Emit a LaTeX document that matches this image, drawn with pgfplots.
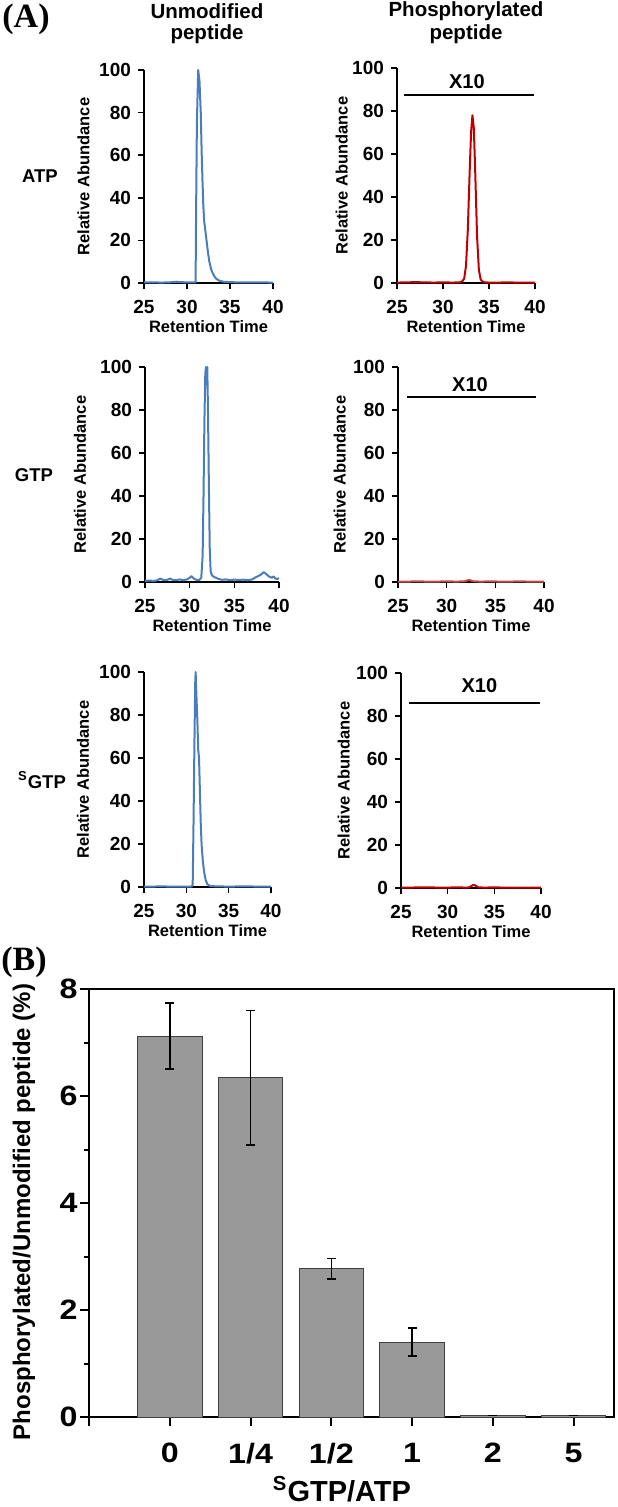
\documentclass[border=0pt]{standalone}
\usepackage{fontspec}
\setmainfont{Liberation Sans}
\newfontfamily\timesf{Liberation Serif}
\newfontfamily\widef[FakeStretch=1.15]{Liberation Sans}
\usepackage{pgfplots}
\pgfplotsset{compat=1.18}

\definecolor{tblue}{HTML}{4A7EBB}
\definecolor{tred}{HTML}{C00000}
\definecolor{tredl}{HTML}{C0504D}
\definecolor{bargray}{HTML}{999999}

% one px of the reference = 0.5pt
\pgfplotsset{
  chrom/.style={
    scale only axis, anchor=south west, clip=false,
    axis lines=left, axis line style={-, line width=0.75pt, black},
    xmin=25, xmax=40, ymin=0, ymax=100,
    xtick={25,30,35,40}, ytick={0,20,...,100},
    tick align=outside, major tick length=3pt,
    tick style={line width=0.75pt, black},
    /pgf/number format/assume math mode=true,
    ticklabel style={font=\fontsize{9.5}{10}\selectfont\bfseries},
    xticklabel shift=2pt,
    xlabel={Retention Time}, ylabel={Relative Abundance},
    label style={font=\fontsize{8.25}{9}\selectfont\bfseries},
    xlabel style={at={(axis description cs:0.5,0)}, anchor=center, yshift=-22pt},
  },
  trace/.style={line width=1pt, no marks, line join=round},
  xten/.style={black, line width=1pt, no marks},
}

\begin{document}
\begin{tikzpicture}
\useasboundingbox (0,0) rectangle (308.5pt,-753.5pt);

% ---- panel A labels
\node[font=\timesf\fontsize{17}{18}\selectfont\bfseries] at (13pt,-9.5pt) {(A)};
\node[font=\fontsize{10.25}{11}\selectfont\bfseries] at (103.5pt,-5.5pt) {Unmodified};
\node[font=\fontsize{10.25}{11}\selectfont\bfseries] at (103.5pt,-17pt) {peptide};
\node[font=\fontsize{10.25}{11}\selectfont\bfseries] at (233pt,-5.5pt) {Phosphorylated};
\node[font=\fontsize{10.25}{11}\selectfont\bfseries] at (233pt,-17pt) {peptide};
\node[font=\fontsize{9.25}{10}\selectfont\bfseries] at (20pt,-88pt) {ATP};
\node[font=\fontsize{9.25}{10}\selectfont\bfseries] at (17pt,-237.5pt) {GTP};
\node[font=\fontsize{9.25}{10}\selectfont\bfseries] at (21pt,-390pt) {\textsuperscript{S}GTP};

% ---- row 1: ATP
\begin{axis}[chrom, at={(72pt,-141.5pt)}, width=64.5pt, height=106.5pt,
  ylabel style={at={(axis description cs:-0.47,0.5)}, anchor=center}]
\addplot[trace, tblue] coordinates {
 (25,0.3) (26,0.3) (27,0.2) (28,0.3) (28.8,0.6) (29.2,0.4) (30,0.3) (31.0,0.3)
 (31.05,30) (31.15,75) (31.3,100) (31.45,95) (31.6,80) (31.7,62) (31.8,48)
 (31.9,36) (32.0,29) (32.15,24) (32.3,19) (32.45,14) (32.6,10) (32.8,6.5)
 (33.0,4.5) (33.2,3) (33.4,2) (33.7,1.2) (34.2,0.6) (35,0.4) (36,0.3) (37,0.3)
 (38.5,0.3) (40,0.2)};
\end{axis}

\begin{axis}[chrom, at={(198.5pt,-141.5pt)}, width=69pt, height=107.5pt,
  ylabel style={at={(axis description cs:-0.40,0.5)}, anchor=center}]
\addplot[xten] coordinates {(25.8,87.5) (39.9,87.5)};
\node[font=\fontsize{10}{10}\selectfont\bfseries] at (axis cs:32.6,93.5) {X10};
\addplot[trace, tred] coordinates {
 (25,0.2) (26,0.3) (27,0.4) (28,0.3) (29,0.2) (30,0.3) (31,0.2) (31.8,0.3)
 (32.1,0.8) (32.3,2) (32.5,8) (32.7,25) (32.9,52) (33.05,70) (33.2,78)
 (33.35,72) (33.5,52) (33.7,22) (33.9,6) (34.1,1.5) (34.4,0.4) (35,0.2)
 (36,0.2) (37,0.3) (38,0.2) (39,0.2) (40,0.2)};
\end{axis}

% ---- row 2: GTP
\begin{axis}[chrom, at={(72.5pt,-291pt)}, width=67pt, height=107.5pt,
  ylabel style={at={(axis description cs:-0.485,0.5)}, anchor=center}]
\addplot[trace, tblue] coordinates {
 (25,0.5) (25.5,0.7) (26,0.5) (26.4,0.8) (26.7,1.6) (27,1.0) (27.4,0.8)
 (27.8,1.6) (28.1,1.0) (28.5,0.9) (28.9,1.2) (29.3,0.8) (29.7,1.2) (30.0,2.0)
 (30.2,2.7) (30.5,1.5) (30.8,0.9) (31.1,1.0) (31.3,2) (31.45,12) (31.55,40)
 (31.65,75) (31.75,97) (31.82,100) (31.9,92) (31.97,100) (32.05,80)
 (32.15,45) (32.25,15) (32.35,5) (32.5,3) (32.8,2.2) (33.2,1.5) (33.6,1.0)
 (34,1.2) (34.5,0.9) (35,1.1) (35.5,0.9) (36,1.1) (36.5,0.8) (37,1.2)
 (37.3,2.0) (37.7,2.8) (38,3.5) (38.3,4.6) (38.6,3.6) (38.9,2.5) (39.2,2.0)
 (39.4,2.6) (39.6,1.6) (39.8,1.4) (40,1.8)};
\end{axis}

\begin{axis}[chrom, at={(199pt,-291pt)}, width=73pt, height=107.5pt,
  ylabel style={at={(axis description cs:-0.40,0.5)}, anchor=center}]
\addplot[xten] coordinates {(25.9,86) (39.2,86)};
\node[font=\fontsize{10}{10}\selectfont\bfseries] at (axis cs:32.4,92) {X10};
\addplot[trace, tredl] coordinates {
 (25,0.2) (26,0.2) (27,0.3) (28,0.2) (29,0.2) (30,0.3) (31,0.2) (31.8,0.3)
 (32.1,0.7) (32.3,1.0) (32.5,0.7) (32.8,0.3) (33.5,0.2) (34.5,0.3) (35.5,0.2)
 (36.5,0.2) (37.5,0.3) (38.5,0.2) (39.5,0.2) (40,0.2)};
\end{axis}

% ---- row 3: sGTP
\begin{axis}[chrom, at={(72pt,-443.5pt)}, width=63.5pt, height=107.5pt,
  ylabel style={at={(axis description cs:-0.48,0.5)}, anchor=center}]
\addplot[trace, tblue] coordinates {
 (25,0.2) (26,0.2) (27,0.3) (28,0.2) (29,0.2) (30,0.2) (30.6,0.2) (30.75,1)
 (30.85,30) (30.95,65) (31.05,95) (31.1,100) (31.2,88) (31.3,78) (31.4,64)
 (31.5,60) (31.6,45) (31.7,30) (31.8,20) (31.95,12) (32.1,7) (32.3,3)
 (32.5,1.2) (32.8,0.5) (33.5,0.3) (35,0.2) (37,0.3) (38.5,0.2) (40,0.2)};
\end{axis}

\begin{axis}[chrom, at={(200.5pt,-444pt)}, width=70pt, height=107.5pt,
  ylabel style={at={(axis description cs:-0.41,0.5)}, anchor=center}]
\addplot[xten] coordinates {(25.9,86) (39.9,86)};
\node[font=\fontsize{10}{10}\selectfont\bfseries] at (axis cs:33.4,94) {X10};
\addplot[trace, tred] coordinates {
 (25,0.2) (26,0.2) (27,0.3) (28,0.3) (29,0.2) (30,0.2) (31,0.3) (32,0.2)
 (32.3,0.3) (32.5,0.8) (32.7,1.3) (32.9,1.3) (33.1,0.8) (33.3,0.3) (34,0.2)
 (35,0.3) (36,0.2) (37,0.2) (38,0.2) (39,0.2) (40,0.2)};
\end{axis}

% ---- panel B
\node[font=\timesf\fontsize{17}{18}\selectfont\bfseries] at (12pt,-481pt) {(B)};
\node[rotate=90, font=\fontsize{12}{13}\selectfont\bfseries] at (12pt,-606pt)
  {Phosphorylated/Unmodified peptide (\%)};
\node[font=\fontsize{14.5}{15}\selectfont\bfseries] at (171pt,-744.5pt)
  {\textsuperscript{S}GTP/ATP};

\begin{axis}[at={(44.5pt,-708.5pt)}, anchor=south west, scale only axis,
  width=262.5pt, height=214pt,
  xmin=0, xmax=6.5, ymin=0, ymax=8,
  ybar, bar width=0.8,
  xtick={0,1,2,3,4,5,6}, xticklabels={,0,1/4,1/2,1,2,5},
  ytick={0,2,4,6,8}, minor ytick={1,3,5,7},
  tick pos=left, tick align=outside,
  major tick length=4.5pt, minor tick length=2.5pt,
  tick style={black, line width=1pt},
  axis line style={line width=1.3pt},
  /pgf/number format/assume math mode=true,
  xticklabel style={font=\widef\fontsize{14}{15}\selectfont\bfseries},
  yticklabel style={font=\widef\fontsize{14}{15}\selectfont\bfseries, inner sep=1pt},
  xticklabel shift=5pt,
]
\addplot[fill=bargray, draw=black!75, line width=0.5pt,
  error bars/.cd, y dir=both, y explicit,
  error bar style={line width=0.8pt, black},
  error mark options={rotate=90, mark size=2.25pt, line width=0.8pt, black}]
  table[x=x, y=y, y error=e] {
  x y e
  1 7.12 0.62
  2 6.34 1.26
  3 2.77 0.19
  4 1.40 0.26
  5 0.03 0
  6 0.03 0
};
\end{axis}
\end{tikzpicture}
\end{document}
